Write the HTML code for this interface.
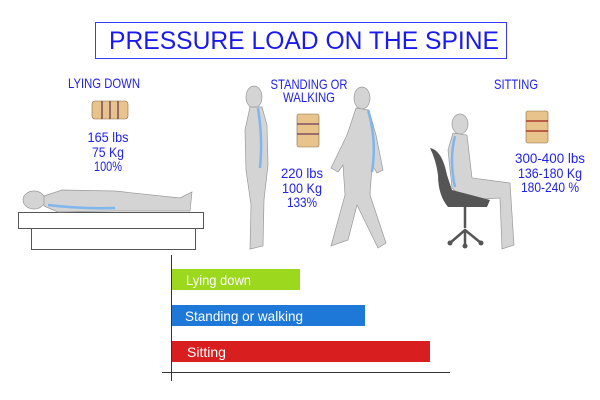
<!DOCTYPE html>
<html><head><meta charset="utf-8"><style>
body{margin:0;background:#fff;width:600px;height:400px;overflow:hidden}
svg{display:block}
text{font-family:"Liberation Sans",sans-serif}
</style></head><body>
<svg width="600" height="400" viewBox="0 0 600 400">
<rect x="95.5" y="22.5" width="411" height="36" fill="#fff" stroke="#3a3aff" stroke-width="1"/>
<text x="304" y="49" text-anchor="middle" font-size="25" fill="#1a1aee" textLength="390" lengthAdjust="spacingAndGlyphs">PRESSURE LOAD ON THE SPINE</text>
<g fill="#e8c48c" stroke="#8a6a40" stroke-width="0.6">
<rect x="92" y="101" width="36" height="18" rx="3"/>
<rect x="297" y="114" width="22" height="33" rx="2"/>
<rect x="526" y="111" width="22" height="32" rx="2"/>
</g>
<g stroke="#6a3a5a" stroke-width="1.3"><line x1="102" y1="101" x2="102" y2="119"/><line x1="110" y1="101" x2="110" y2="119"/><line x1="118" y1="101" x2="118" y2="119"/>
<line x1="297" y1="124" x2="319" y2="124"/><line x1="297" y1="134" x2="319" y2="134"/>
<line x1="526" y1="121" x2="548" y2="121" stroke="#a02020"/><line x1="526" y1="131" x2="548" y2="131" stroke="#a02020"/></g>
<rect x="18.5" y="212.5" width="185" height="16" fill="#fff" stroke="#555"/>
<rect x="31.5" y="228.5" width="164" height="21" fill="#fff" stroke="#555"/>
<g fill="#d4d4d4" stroke="#999" stroke-width="0.7">
<ellipse cx="34" cy="200" rx="11" ry="9"/>
<path d="M44 196 L62 190 L115 191 L180 198 L192 192 L190 211 L115 211 L58 212 L44 206 Z"/>
</g>
<path d="M48 205 Q80 209 115 208" stroke="#7fb6ee" stroke-width="2.5" fill="none"/>
<g fill="#d4d4d4" stroke="#999" stroke-width="0.7">
<ellipse cx="254" cy="97" rx="8" ry="11"/>
<path d="M250 107 L262 107 L267 125 L268 165 L264 200 L263 246 L250 249 L251 205 L246 170 L245 130 Z"/>
<ellipse cx="362" cy="98" rx="8" ry="11"/>
<path d="M356 108 L369 110 L376 135 L383 170 L377 173 L372 165 L370 195 L386 243 L378 248 L357 205 L348 240 L331 246 L345 195 L343 165 L338 172 L331 168 L347 135 Z"/>
<ellipse cx="460" cy="124" rx="8" ry="10"/>
<path d="M453 133 L467 135 L472 178 L510 183 L514 245 L502 249 L500 198 L465 200 L452 188 L448 150 Z"/>
</g>
<path d="M258 108 Q263 140 260 168" stroke="#7fb6ee" stroke-width="2.5" fill="none"/>
<path d="M368 110 Q377 140 372 172" stroke="#7fb6ee" stroke-width="2.5" fill="none"/>
<path d="M455 136 Q449 160 455 187" stroke="#7fb6ee" stroke-width="2.5" fill="none"/>
<path d="M430 148 Q442 150 447 175 L452 190 L490 200 L487 207 L448 207 Q438 195 438 175 Q436 160 430 148 Z" fill="#555"/>
<g stroke="#555" stroke-width="2.5" fill="none"><line x1="465" y1="207" x2="465" y2="228"/><path d="M450 243 L465 230 L481 243 M465 230 L465 246"/></g>
<g fill="#555"><circle cx="450" cy="243" r="2.5"/><circle cx="481" cy="243" r="2.5"/><circle cx="465" cy="246" r="2.5"/></g>
<g fill="#2222ee" font-size="14" text-anchor="middle">
<text x="104" y="88" textLength="72" lengthAdjust="spacingAndGlyphs">LYING DOWN</text>
<text x="108" y="142" textLength="41" lengthAdjust="spacingAndGlyphs">165 lbs</text><text x="108" y="157" textLength="32" lengthAdjust="spacingAndGlyphs">75 Kg</text><text x="108" y="171" textLength="28" lengthAdjust="spacingAndGlyphs">100%</text>
<text x="309" y="89" textLength="77" lengthAdjust="spacingAndGlyphs">STANDING OR</text>
<text x="309" y="102" textLength="52" lengthAdjust="spacingAndGlyphs">WALKING</text>
<text x="302" y="178" textLength="42" lengthAdjust="spacingAndGlyphs">220 lbs</text><text x="302" y="193" textLength="40" lengthAdjust="spacingAndGlyphs">100 Kg</text><text x="302" y="207" textLength="30" lengthAdjust="spacingAndGlyphs">133%</text>
<text x="516" y="89" textLength="44" lengthAdjust="spacingAndGlyphs">SITTING</text>
<text x="550" y="163" textLength="70" lengthAdjust="spacingAndGlyphs">300-400 lbs</text><text x="550" y="178" textLength="64" lengthAdjust="spacingAndGlyphs">136-180 Kg</text><text x="550" y="192" textLength="58" lengthAdjust="spacingAndGlyphs">180-240 %</text>
</g>
<line x1="171.5" y1="255" x2="171.5" y2="381" stroke="#333" stroke-width="1"/>
<line x1="162" y1="372.5" x2="450" y2="372.5" stroke="#333" stroke-width="1"/>
<rect x="172" y="269" width="128" height="21" fill="#9bd81e"/>
<rect x="172" y="305" width="193" height="21" fill="#1e78d8"/>
<rect x="172" y="341" width="258" height="21" fill="#d81e1e"/>
<g fill="#fff" font-size="14">
<text x="186" y="285" textLength="65" lengthAdjust="spacingAndGlyphs">Lying down</text>
<text x="185" y="321" textLength="118" lengthAdjust="spacingAndGlyphs">Standing or walking</text>
<text x="187" y="357" textLength="39" lengthAdjust="spacingAndGlyphs">Sitting</text>
</g>
</svg>
</body></html>
